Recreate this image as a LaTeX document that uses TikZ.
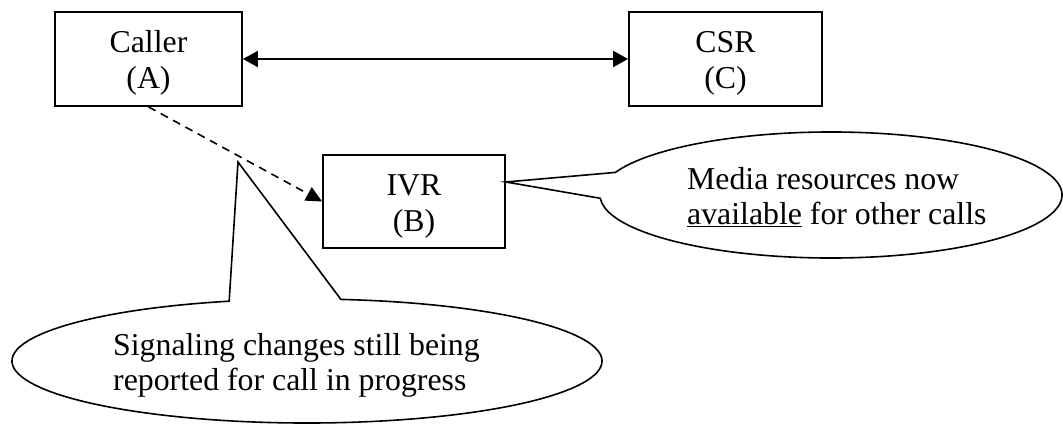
\documentclass[tikz,border=0pt]{standalone}
\usepackage{fontspec}
\setmainfont{Liberation Serif}
\usetikzlibrary{arrows.meta,calc}
\begin{document}
\begin{tikzpicture}[x=1pt,y=1pt,
  box/.style={draw, line width=1.8pt, inner sep=0pt, align=center, font=\fontsize{31.8}{36}\selectfont},
  txt/.style={inner sep=0pt, align=left, font=\fontsize{31.8}{35.5}\selectfont},
  bubble/.style={draw, line width=1.6pt, line join=miter},
  tip/.tip={Triangle[length=15pt,width=16pt]},
  solidarrow/.style={line width=2pt, tip-tip},
  dashedarrow/.style={line width=1.6pt, dash pattern=on 8pt off 6pt, -{Triangle[length=16pt,width=15pt]}},
]
\useasboundingbox (0,0) rectangle (1063,424);
\node[box, minimum width=187pt, minimum height=94pt] (caller) at (148.5,365) {\rule{0pt}{30pt}Caller\\(A)};
\node[box, minimum width=193pt, minimum height=94pt] (csr) at (725.5,365) {\rule{0pt}{30pt}CSR\\(C)};
\node[box, minimum width=182pt, minimum height=93pt] (ivr) at (414,222.5) {\rule{0pt}{30pt}IVR\\(B)};

\draw[solidarrow] (caller) -- (csr);
\draw[dashedarrow] (caller.south) -- (ivr.west);

% right callout
\coordinate (rc) at (831,229);
\coordinate (rtip) at ($(ivr.east)+(0,19.5)$);
\draw[bubble] ($(rc)+(159:231pt and 63pt)$) arc[start angle=159, end angle=-177, x radius=231pt, y radius=63pt] -- (rtip) -- cycle;
\node[txt, anchor=north west] (rtext) at (687,265) {\rule{0pt}{30pt}Media resources now\\\underline{available} for other calls};

% bottom callout
\coordinate (bc) at (307,63);
\coordinate (btip) at (238,262);
\draw[bubble] ($(bc)+(105.3:295pt and 62pt)$) arc[start angle=105.3, end angle=443.4, x radius=295pt, y radius=62pt] -- (btip) -- cycle;
\node[txt, anchor=north west] (btext) at (113,99) {\rule{0pt}{30pt}Signaling changes still being\\reported for call in progress};
\end{tikzpicture}
\end{document}
